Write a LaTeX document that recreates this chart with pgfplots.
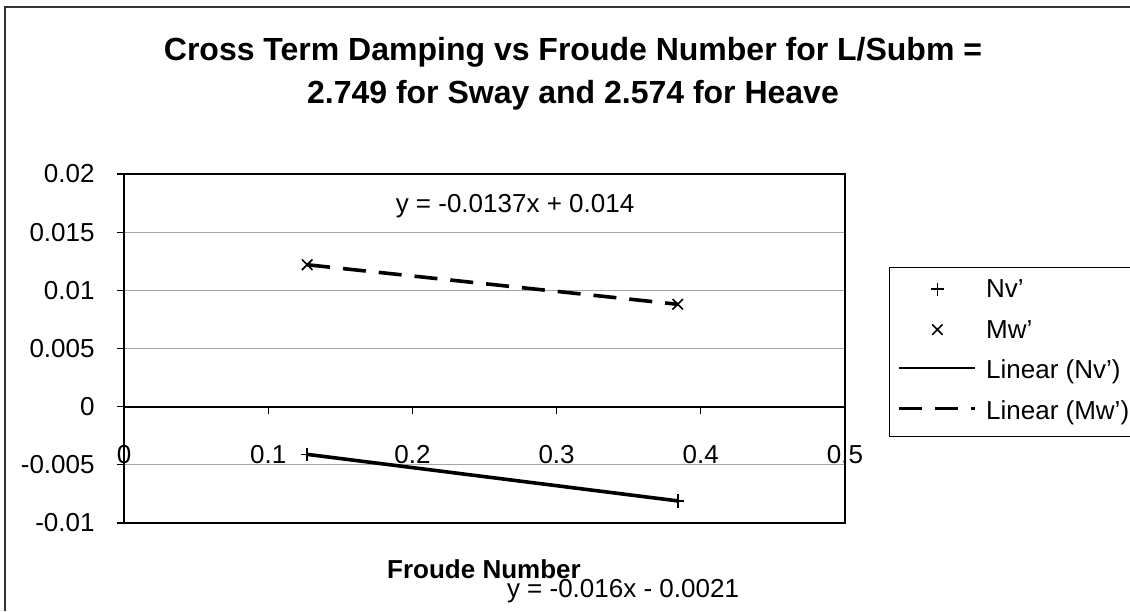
\documentclass[border=0pt]{standalone}
\usepackage{fontspec}
\setmainfont{Liberation Sans}
\usepackage{pgfplots}
\pgfplotsset{compat=1.18}
\pgfplotsset{
  legmark/.style={legend image code/.code={\draw[##1] plot coordinates {(19pt,1pt)}; \path (0pt,0pt) (42.5pt,0pt);}},
  legline/.style={legend image code/.code={\draw[##1] (0pt,2pt) -- (38pt,2pt); \path (42.5pt,0pt);}},
  leglinethin/.style={legend image code/.code={\draw[##1, line width=1pt] (0pt,2pt) -- (38pt,2pt); \path (42.5pt,0pt);}},
}
\begin{document}
\begin{tikzpicture}
\useasboundingbox (0,0) rectangle (565pt,-305.5pt);
\draw[line width=0.6pt, black!80] (2.5pt,-305.5pt) -- (2.5pt,-3.5pt) -- (565pt,-3.5pt);
\node[anchor=base, font=\bfseries\fontsize{16}{19}\selectfont] at (286.5pt,-30pt) {Cross Term Damping vs Froude Number for L/Subm =};
\node[anchor=base, font=\bfseries\fontsize{16}{19}\selectfont] at (286.5pt,-51.5pt) {2.749 for Sway and 2.574 for Heave};
\begin{axis}[
  at={(62pt,-87pt)}, anchor=north west,
  scale only axis, width=360.5pt, height=174.5pt,
  xmin=0, xmax=0.5, ymin=-0.01, ymax=0.02,
  scaled y ticks=false, scaled x ticks=false,
  axis x line=middle, axis y line=left,
  axis line style={-, line width=0.9pt, black},
  hide obscured x ticks=false, hide obscured y ticks=false,
  xtick={0,0.1,0.2,0.3,0.4,0.5},
  xticklabels={0,0.1,0.2,0.3,0.4,0.5},
  ytick={-0.01,-0.005,0,0.005,0.01,0.015,0.02},
  yticklabels={-0.01,-0.005,0,0.005,0.01,0.015,0.02},
  tick align=outside, major tick length=3.5pt,
  tick style={black, line width=0.6pt},
  xticklabel style={anchor=base, inner sep=0pt, yshift=-25pt, font=\fontsize{13}{15}\selectfont},
  yticklabel style={anchor=east, inner sep=0pt, xshift=-11pt, font=\fontsize{13}{15}\selectfont},
  ymajorgrids, grid style={gray!70, line width=0.5pt},
  legend style={at={(1.061,0.7335)}, anchor=north west, draw=black, line width=0.6pt,
    inner xsep=4pt, inner ysep=6pt, font=\fontsize{13}{15}\selectfont, row sep=8.75pt,
    nodes={inner sep=0pt, text height=9pt, text depth=2.5pt}},
  legend cell align=left,
  clip=false,
]
\addplot[only marks, mark=+, mark size=3.3pt, mark options={line width=0.8pt, black}, legmark]
  coordinates {(0.127,-0.0041) (0.384,-0.0081)};
\addlegendentry{Nv'}
\addplot[only marks, mark=x, mark size=3.7pt, mark options={line width=0.8pt, black}, legmark]
  coordinates {(0.127,0.0122) (0.384,0.0088)};
\addlegendentry{Mw'}
\addplot[black, line width=1.8pt, no marks, leglinethin]
  coordinates {(0.127,-0.0041) (0.384,-0.0081)};
\addlegendentry{Linear (Nv')}
\addplot[black, line width=1.8pt, no marks, dash pattern=on 11.5pt off 6.5pt, legline]
  coordinates {(0.127,0.0122) (0.384,0.0088)};
\addlegendentry{Linear (Mw')}
\draw[black, line width=0.9pt] (rel axis cs:0,0) rectangle (rel axis cs:1,1);
\end{axis}
\node[anchor=base, font=\fontsize{13}{15}\selectfont] at (257.5pt,-106pt) {y = -0.0137x + 0.014};
\node[anchor=base, font=\bfseries\fontsize{13}{15}\selectfont] at (242pt,-289pt) {Froude Number};
\node[anchor=base, font=\fontsize{13}{15}\selectfont] at (311.5pt,-298.5pt) {y = -0.016x - 0.0021};
\end{tikzpicture}
\end{document}
